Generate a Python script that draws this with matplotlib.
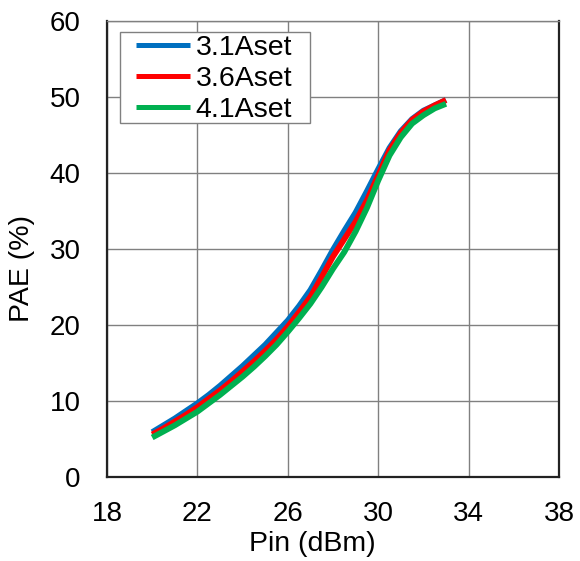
import matplotlib.pyplot as plt
from matplotlib.patches import Rectangle

plt.rcParams['font.family'] = ['Liberation Sans', 'DejaVu Sans']

# Pin (dBm)
pin = [20, 20.5, 21, 21.5, 22, 22.5, 23, 23.5, 24, 24.5, 25, 25.5, 26, 26.5,
       27, 27.5, 28, 28.5, 29, 29.5, 30, 30.5, 31, 31.5, 32, 32.5, 33]

# PAE (%) para cada corriente
pae_31 = [5.9, 6.8, 7.7, 8.7, 9.7, 10.8, 12.0, 13.3, 14.6, 16.0, 17.4, 19.0, 20.6, 22.5,
          24.6, 27.2, 29.9, 32.4, 34.8, 37.6, 40.5, 43.3, 45.5, 47.1, 48.2, 48.9, 49.6]
pae_36 = [5.6, 6.4, 7.3, 8.2, 9.2, 10.3, 11.4, 12.6, 13.9, 15.2, 16.6, 18.1, 19.8, 21.7,
          23.7, 26.3, 29.0, 31.3, 33.6, 36.4, 39.7, 43.0, 45.3, 47.0, 48.1, 48.9, 49.6]
pae_41 = [5.2, 6.0, 6.8, 7.7, 8.6, 9.7, 10.8, 12.0, 13.2, 14.5, 15.9, 17.4, 19.1, 20.9,
          22.8, 25.0, 27.4, 29.6, 32.3, 35.4, 39.0, 42.3, 44.7, 46.5, 47.6, 48.5, 49.1]

labels = ['3.1Aset', '3.6Aset', '4.1Aset']
colors = ['#0070C0', '#FF0000', '#00B050']
xticks = [18, 22, 26, 30, 34, 38]
yticks = [0, 10, 20, 30, 40, 50, 60]

fig = plt.figure(figsize=(5.8, 5.61), dpi=100)
ax = fig.add_axes([0.1845, 0.1497, 0.7793, 0.8129])

for y, lab, c in zip([pae_31, pae_36, pae_41], labels, colors):
    ax.plot(pin, y, color=c, lw=4.2, label=lab, solid_capstyle='butt',
            solid_joinstyle='round')

ax.set_xlim(18, 38)
ax.set_ylim(0, 60)
ax.set_xticks(xticks)
ax.set_yticks(yticks)
ax.grid(True, color='#808080', lw=1.0)
ax.set_axisbelow(True)
ax.tick_params(axis='both', length=0, labelsize=20)
ax.tick_params(axis='x', pad=17.5)
ax.tick_params(axis='y', pad=19)

for s in ['left', 'bottom', 'right']:
    ax.spines[s].set_color('#222222')
    ax.spines[s].set_linewidth(1.6)
ax.spines['top'].set_color('#808080')
ax.spines['top'].set_linewidth(1.0)

ax.set_xlabel('Pin (dBm)', fontsize=20.5)
ax.xaxis.set_label_coords(0.4535, -0.118)
ax.set_ylabel('PAE (%)', fontsize=20.5)
ax.yaxis.set_label_coords(-0.159, 0.458)

# marco de la leyenda dibujado aparte
ax.add_patch(Rectangle((0.0288, 0.7763), 0.420, 0.1996, transform=ax.transAxes,
                       facecolor='white', edgecolor='#808080', lw=1.0, zorder=4))
leg = ax.legend(loc='upper left', bbox_to_anchor=(0.0642, 0.9693), fontsize=20.5,
                frameon=False, handlelength=1.9, handletextpad=0.2,
                labelspacing=0.18, borderpad=0, borderaxespad=0)
leg.set_zorder(5)
for h in leg.get_lines():
    h.set_linewidth(3.6)

fig.savefig('out.png', dpi=100)
